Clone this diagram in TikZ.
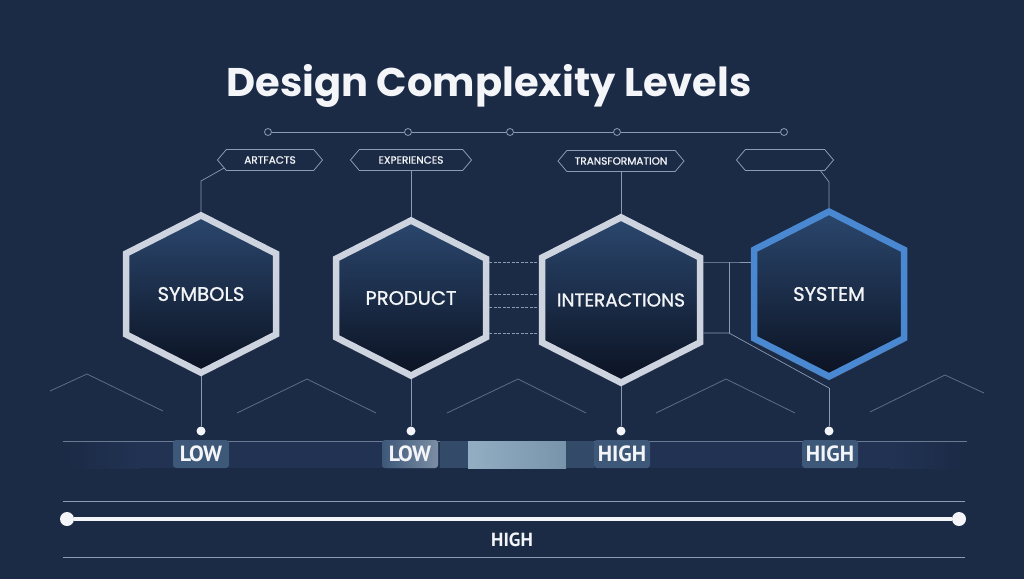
\documentclass[tikz,border=0pt]{standalone}
\usepackage{fontspec}
\setmainfont{Poppins}
\newfontfamily\lvlfont{PT Sans}
\newfontfamily\hexfont{Poppins}[FakeBold=1.2]
\usetikzlibrary{shapes,arrows,shadows}
\usetikzlibrary{positioning}
\definecolor{bgnavy}{HTML}{1B2A45}
\definecolor{bandnavy}{HTML}{213253}
\definecolor{silver}{HTML}{CDD4DF}
\definecolor{sysblue}{HTML}{4A89D2}
\definecolor{hextop}{HTML}{2B476E}
\definecolor{hexbot}{HTML}{0B1222}
\definecolor{wire}{HTML}{8C9BB2}
\definecolor{lvlbox}{HTML}{3D5879}
\definecolor{barlight}{HTML}{E0ECF2}
\definecolor{barleft}{HTML}{93AEC2}
\definecolor{barright}{HTML}{7894AC}
\definecolor{offwhite}{HTML}{F3F5F8}

\begin{document}
\begin{tikzpicture}
        [x=1pt, y=-1pt,
         hexa/.style={signal, signal to=north and south, signal pointer angle=126,
           minimum width=150, minimum height=125, inner sep=0pt,
           top color=hextop, bottom color=hexbot, draw=silver, line width=6.5pt,
           drop shadow={shadow xshift=0pt, shadow yshift=-4pt, opacity=0.35},
           text=offwhite, font=\hexfont\fontsize{19.5}{19.5}\selectfont},
         tag/.style={signal, signal to=west and east, signal pointer angle=100,
           draw=wire, line width=0.8pt, minimum height=21, inner sep=2pt,
           text=offwhite, font=\hexfont\fontsize{10.5}{10.5}\selectfont},
         tline/.style={draw=wire, line width=0.7pt},
         dashwire/.style={draw=wire, line width=0.7pt, dash pattern=on 3pt off 1.5pt},
         chev/.style={draw=wire, line width=0.8pt, opacity=0.6},
         tdot/.style={circle, draw=wire, line width=0.8pt, minimum size=7, inner sep=0pt},
         ldot/.style={circle, fill=offwhite, minimum size=9, inner sep=0pt},
         lvl/.style={rounded corners=3pt, fill=lvlbox, minimum height=28, minimum width=56,
           inner sep=1pt, text=offwhite, font=\lvlfont\bfseries\fontsize{22}{22}\selectfont}]
        \fill[bgnavy] (0,0) rectangle (1024,579);
        \useasboundingbox (0,0) rectangle (1024,579);

        \node [text=offwhite, font=\bfseries\fontsize{40}{40}\selectfont] (title) at (489,86) {Design Complexity Levels};

        \node [tdot] (t1) at (268,132) {};
        \node [tdot] (t2) at (408,132) {};
        \node [tdot] (t3) at (510,132) {};
        \node [tdot] (t4) at (617,132) {};
        \node [tdot] (t5) at (784,132) {};
        \draw [tline] (t1) -- (t2);
        \draw [tline] (t2) -- (t3);
        \draw [tline] (t3) -- (t4);
        \draw [tline] (t4) -- (t5);

        \node [tag, minimum width=105] (art) at (270,160) {ARTFACTS};
        \node [tag, minimum width=121] (exp) at (411,160) {EXPERIENCES};
        \node [tag, minimum width=126] (trans) at (621,161) {TRANSFORMATION};
        \node [tag, minimum width=97] (blank) at (785,160) {};

        \draw [chev] (50,391) -- (87,374) -- (163,411);
        \draw [chev] (237,413) -- (307,379) -- (376,413);
        \draw [chev] (447,413) -- (518,379) -- (586,413);
        \draw [chev] (656,413) -- (726,379) -- (795,413);
        \draw [chev] (870,412) -- (945,375) -- (984,393);

        \fill[bandnavy] (140,441) rectangle (890,468);
        \shade[left color=bgnavy, right color=bandnavy] (63,441) rectangle (140,468);
        \shade[left color=bandnavy, right color=bgnavy] (890,441) rectangle (967,468);
        \draw [tline, opacity=0.7] (63,441) -- (967,441);
        \fill[lvlbox!70!bgnavy] (440,441) rectangle (468,468);
        \shade[left color=barleft, middle color=barlight, right color=barright] (468,441) rectangle (566,468);
        \fill[lvlbox!70!bgnavy] (566,441) rectangle (594,468);

        \node [hexa] (sym) at (201,294) {SYMBOLS};
        \node [hexa] (prod) at (411,298) {PRODUCT};
        \node [hexa, minimum width=158, minimum height=150, font=\hexfont\fontsize{18.5}{18.5}\selectfont] (inter) at (621,300) {INTERACTIONS};
        \node [hexa, draw=sysblue] (sys) at (829,294) {SYSTEM};

        \coordinate (j1) at (729,262);
        \coordinate (j2) at (729,333);
        \coordinate (sysb) at (829,388);

        \draw [tline] (art.190) -- (sym.north |- 0,181) -- (sym.north);
        \draw [tline] (exp.south) -- (prod.north);
        \draw [tline] (trans.south) -- (inter.north);
        \draw [tline] (blank.-17) -- (sys.north |- 0,182) -- (sys.north);

        \draw [dashwire] (prod.east |- 0,262) -- (inter.west |- 0,262);
        \draw [dashwire] (prod.east |- 0,294) -- (inter.west |- 0,294);
        \draw [dashwire] (prod.east |- 0,307) -- (inter.west |- 0,307);
        \draw [dashwire] (prod.east |- 0,333) -- (inter.west |- 0,333);

        \draw [tline] (inter.east |- j1) -- (j1) -- (sys.west |- j1);
        \draw [tline] (j1) -- (j2);
        \draw [tline] (inter.east |- j2) -- (j2) -- (sysb);

        \node [ldot] (d1) at (201,431) {};
        \node [ldot] (d2) at (411,431) {};
        \node [ldot] (d3) at (621,431) {};
        \node [ldot] (d4) at (829,431) {};
        \draw [tline] (sym.south) -- (d1);
        \draw [tline] (prod.south) -- (d2);
        \draw [tline] (inter.south) -- (d3);
        \draw [tline] (sysb) -- (d4);

        \node [lvl] (low1) at (201,454) {LOW};
        \node [lvl, left color=lvlbox, right color=lvlbox!60!white!80!lvlbox] (low2) at (410,454) {LOW};
        \node [lvl] (high1) at (622,454) {HIGH};
        \node [lvl] (high2) at (830,454) {HIGH};

        \draw [tline] (63,501) -- (965,501);
        \node [ldot, minimum size=14] (e1) at (67,519) {};
        \node [ldot, minimum size=14] (e2) at (959,519) {};
        \draw [offwhite, line width=3.5pt] (e1) -- (e2);
        \node [text=offwhite, font=\lvlfont\bfseries\fontsize{19}{19}\selectfont] (hi) at (512,540) {HIGH};
        \draw [tline] (63,557) -- (965,557);
    \end{tikzpicture}
\end{document}
